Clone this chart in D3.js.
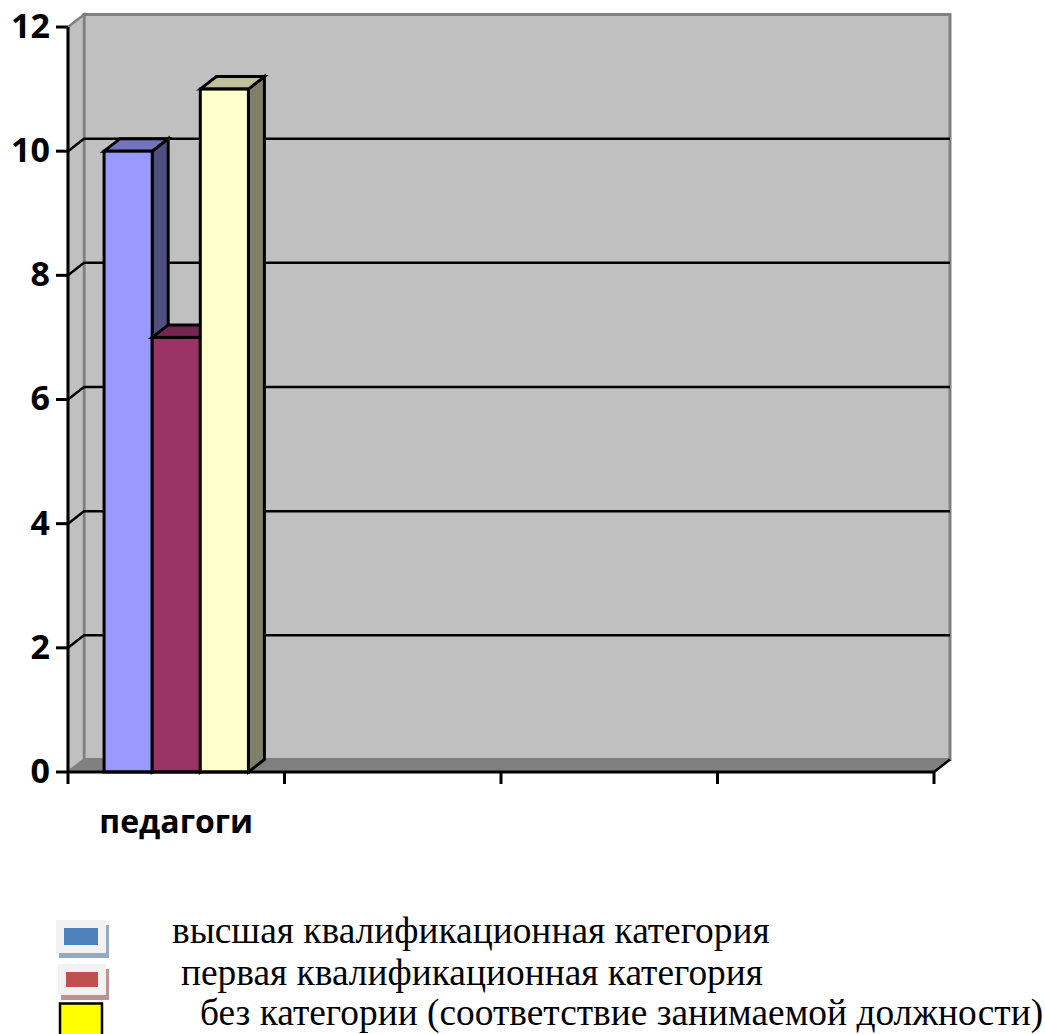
<!DOCTYPE html>
<html>
<head>
<meta charset="utf-8">
<script src="https://cdn.jsdelivr.net/npm/d3@7"></script>
<style>
  html, body { margin: 0; padding: 0; background: #fff; }
  svg { display: block; }
</style>
</head>
<body>
<div id="chart"></div>
<script>
const categories = ["педагоги", "", "", ""];
const seriesNames = [
  "высшая квалификационная категория",
  "первая квалификационная категория",
  "без категории (соответствие занимаемой должности)"
];
const seriesValues = [10, 7, 11];
const yTicks = [0, 2, 4, 6, 8, 10, 12];
const barFront = ["#9999ff", "#993366", "#ffffcc"];
const barTop = ["#7373bf", "#732650", "#bfbf99"];
const barSide = ["#505080", "#4d1a33", "#808066"];

const width = 1045, height = 1034;
const margin = {top: 27, right: 111, bottom: 262, left: 68};
const depthX = 16, depthY = -12.5;

const svg = d3.select("#chart").append("svg")
    .attr("width", width)
    .attr("height", height);

const y = d3.scaleLinear().domain([0, 12]).range([height - margin.bottom, margin.top]);
const x0 = d3.scaleBand().domain(d3.range(categories.length))
    .range([margin.left, width - margin.right]);
const x1 = d3.scaleBand().domain(d3.range(seriesNames.length))
    .range([0, x0.bandwidth()]).paddingOuter(0.75).paddingInner(0);
const xTicks = d3.scaleLinear().domain([0, categories.length])
    .range([margin.left, width - margin.right]);

const xl = margin.left, xr = width - margin.right, y0 = y(0), yT = y(12);
const poly = pts => pts.map(p => p.join(",")).join(" ");

// walls and floor
svg.append("polygon")
    .attr("points", poly([[xl + depthX, yT + depthY], [xr + depthX, yT + depthY], [xr + depthX, y0 + depthY], [xl + depthX, y0 + depthY]]))
    .attr("fill", "#c0c0c0").attr("stroke", "#808080").attr("stroke-width", 3);
svg.append("polygon")
    .attr("points", poly([[xl, yT], [xl + depthX, yT + depthY], [xl + depthX, y0 + depthY], [xl, y0]]))
    .attr("fill", "#c0c0c0").attr("stroke", "#808080").attr("stroke-width", 2.5);
svg.append("polygon")
    .attr("points", poly([[xl, y0], [xl + depthX, y0 + depthY], [xr + depthX, y0 + depthY], [xr, y0]]))
    .attr("fill", "#808080");

// gridlines
const grid = svg.append("g");
yTicks.filter(d => d > 0 && d < 12).forEach(d => {
  grid.append("polyline")
      .attr("points", poly([[xl, y(d)], [xl + depthX, y(d) + depthY], [xr + depthX, y(d) + depthY]]))
      .attr("fill", "none").attr("stroke", "#000").attr("stroke-width", 2.5);
});
svg.append("line")
    .attr("x1", xr).attr("y1", y0).attr("x2", xr + depthX).attr("y2", y0 + depthY)
    .attr("stroke", "#000").attr("stroke-width", 2.5);

// bars
const bars = svg.append("g").selectAll("g")
    .data(seriesValues)
    .enter().append("g")
    .attr("stroke", "#000")
    .attr("stroke-width", 3)
    .attr("stroke-linejoin", "miter");
const bx = (d, i) => x0(0) + x1(i);
bars.append("polygon")
    .attr("fill", (d, i) => barSide[i])
    .attr("points", (d, i) => {
      const r = bx(d, i) + x1.bandwidth();
      return poly([[r, y(d)], [r + depthX, y(d) + depthY], [r + depthX, y0 + depthY], [r, y0]]);
    });
bars.append("polygon")
    .attr("fill", (d, i) => barTop[i])
    .attr("points", (d, i) => {
      const l = bx(d, i), r = l + x1.bandwidth();
      return poly([[l, y(d)], [l + depthX, y(d) + depthY], [r + depthX, y(d) + depthY], [r, y(d)]]);
    });
bars.append("rect")
    .attr("fill", (d, i) => barFront[i])
    .attr("x", bx)
    .attr("y", d => y(d))
    .attr("width", x1.bandwidth())
    .attr("height", d => y0 - y(d));

// axes
const yAxis = svg.append("g")
    .attr("transform", `translate(${margin.left},0)`)
    .call(d3.axisLeft(y).offset(0).tickValues(yTicks).tickSize(12).tickSizeOuter(0).tickPadding(6));
const xAxis = svg.append("g")
    .attr("transform", `translate(0,${y0})`)
    .call(d3.axisBottom(xTicks).offset(0).ticks(categories.length).tickSize(12).tickSizeOuter(0).tickFormat(""));
svg.selectAll(".domain, .tick line").attr("stroke", "#000").attr("stroke-width", 3);
yAxis.selectAll("text")
    .attr("fill", "#000")
    .style("font-family", "Open Sans")
    .style("font-weight", 700)
    .style("font-size", "34px");

svg.append("g").selectAll("text")
    .data(categories)
    .enter().append("text")
    .attr("x", (d, i) => x0(i) + x0.bandwidth() / 2)
    .attr("y", 833)
    .attr("text-anchor", "middle")
    .style("font-family", "Open Sans")
    .style("font-weight", 700)
    .style("font-size", "32px")
    .text(d => d);

// legend, placed by hand below the chart like in the source page
const legendText = [
  {x: 172, y: 943},
  {x: 181, y: 985},
  {x: 200, y: 1025}
];
svg.append("g").selectAll("text")
    .data(seriesNames)
    .enter().append("text")
    .attr("x", (d, i) => legendText[i].x)
    .attr("y", (d, i) => legendText[i].y)
    .style("font-family", "Liberation Serif")
    .style("font-size", "37.4px")
    .attr("fill", "#000")
    .text(d => d);

const swatch = (bx, by, bw, bh, ix, iy, iw, ih, color, shadow) => {
  svg.append("rect").attr("x", bx + 3).attr("y", by + 5).attr("width", bw).attr("height", bh).attr("fill", shadow);
  svg.append("rect").attr("x", bx).attr("y", by).attr("width", bw).attr("height", bh).attr("fill", "#f2f2f2");
  svg.append("rect").attr("x", ix).attr("y", iy).attr("width", iw).attr("height", ih).attr("fill", color);
};
swatch(56, 920, 50, 33, 64, 928, 34, 17, "#4f81bd", "#95a9c2");
swatch(58, 964, 48, 31, 66, 972, 32, 15, "#c0504d", "#bd9292");
svg.append("rect")
    .attr("x", 60).attr("y", 1003.5).attr("width", 42).attr("height", 32)
    .attr("fill", "#ffff00").attr("stroke", "#000").attr("stroke-width", 2.5);
</script>
</body>
</html>
